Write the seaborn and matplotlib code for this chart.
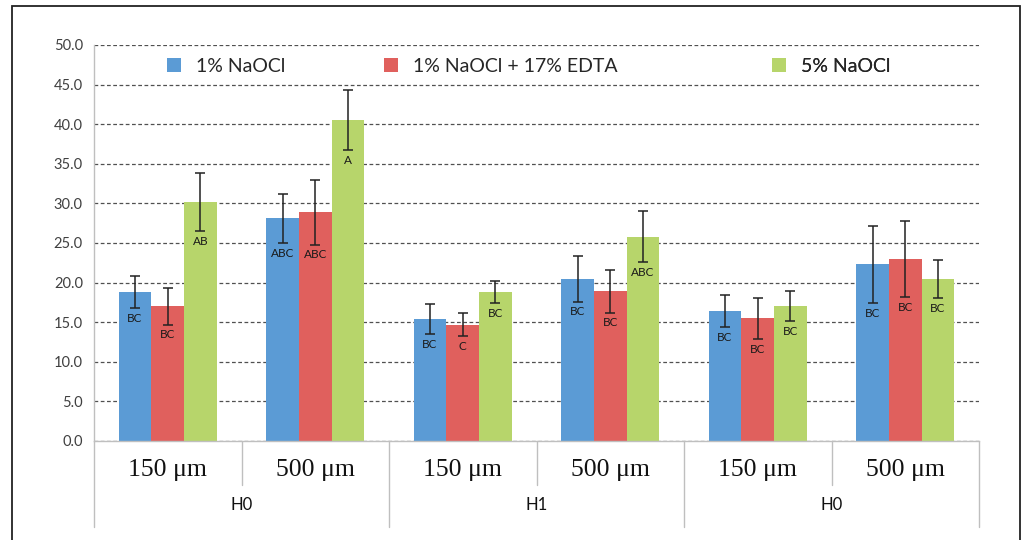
import numpy as np
import pandas as pd
import seaborn as sns
import matplotlib.pyplot as plt
from matplotlib.patches import Rectangle

# values: mean, sd and letter group per bar
groups = ['H0', 'H1', 'H0']
sizes = ['150 μm', '500 μm']
treatments = ['1% NaOCl', '1% NaOCl + 17% EDTA', '5% NaOCl']

naocl1 = [18.8, 28.1, 15.4, 20.5, 16.4, 22.3]
naocl1_sd = [2.0, 3.1, 1.9, 2.9, 2.0, 4.9]
naocl1_lbl = ['BC', 'ABC', 'BC', 'BC', 'BC', 'BC']

edta = [17.0, 28.9, 14.7, 18.9, 15.5, 23.0]
edta_sd = [2.3, 4.1, 1.5, 2.7, 2.6, 4.8]
edta_lbl = ['BC', 'ABC', 'C', 'BC', 'BC', 'BC']

naocl5 = [30.2, 40.5, 18.8, 25.8, 17.0, 20.4]
naocl5_sd = [3.7, 3.8, 1.4, 3.2, 1.9, 2.4]
naocl5_lbl = ['AB', 'A', 'BC', 'ABC', 'BC', 'BC']

colors = ['#5B9BD5', '#E0605D', '#B7D56B']

# long table for seaborn
slots = [f'{g}-{s}-{k}' for k, g in enumerate(groups) for s in sizes]
rows = []
for t, vals, sds, lbls in zip(treatments, [naocl1, edta, naocl5],
                              [naocl1_sd, edta_sd, naocl5_sd],
                              [naocl1_lbl, edta_lbl, naocl5_lbl]):
    for s, v, e, l in zip(slots, vals, sds, lbls):
        rows.append({'slot': s, 'treatment': t, 'value': v, 'sd': e, 'letter': l})
df = pd.DataFrame(rows)

sns.set_theme(style='white')
plt.rcParams['font.family'] = ['Lato', 'DejaVu Sans']

fig = plt.figure(figsize=(10.29, 5.4), dpi=100)
ax = fig.add_axes([94 / 1029, 1 - 441 / 540, (979 - 94) / 1029, 396 / 540])

sns.barplot(data=df, x='slot', y='value', hue='treatment', order=slots,
            hue_order=treatments, palette=colors, saturation=1, width=0.665,
            errorbar=None, linewidth=0, ax=ax)

# error bars + letters from the bar patches
for cont, t in zip(ax.containers, treatments):
    sub = df[df['treatment'] == t].set_index('slot').loc[slots]
    xs = [p.get_x() + p.get_width() / 2 for p in cont.patches]
    ax.errorbar(xs, sub['value'], yerr=sub['sd'], fmt='none', ecolor='#222222',
                elinewidth=1.1, capsize=3.5, capthick=1.1, zorder=3)
    for x, v, e, l in zip(xs, sub['value'], sub['sd'], sub['letter']):
        ax.text(x, v - e - 0.6, l, ha='center', va='top', fontsize=8.5,
                color='#1a1a1a', zorder=4)

ax.set_ylim(0, 50)
ax.set_xlim(-0.5, len(slots) - 0.5)
ax.set_yticks(np.arange(0, 51, 5))
ax.set_yticklabels([f'{v:.1f}' for v in np.arange(0, 51, 5)], fontsize=10.5,
                   color='#404040')
ax.tick_params(axis='y', length=0, pad=8)
ax.set_xticks([])
ax.set_xlabel('')
ax.set_ylabel('')
ax.set_axisbelow(True)
ax.yaxis.grid(True, linestyle=(0, (3, 2)), color='#505050', linewidth=0.9)
for sp in ['top', 'right']:
    ax.spines[sp].set_visible(False)
for sp in ['left', 'bottom']:
    ax.spines[sp].set_color('#BFBFBF')
    ax.spines[sp].set_linewidth(1.0)

# legend: one entry per slot, spaced like the original
h, l = ax.get_legend_handles_labels()
ax.get_legend().remove()
for hh, ll, xpx in zip(h, l, [167, 384, 772]):
    leg = ax.legend([hh], [ll], loc='center left',
                    bbox_to_anchor=((xpx - 94) / 885, 1 - 21 / 396),
                    frameon=False, fontsize=14, handlelength=0.7,
                    handleheight=0.7, handletextpad=0.8, borderaxespad=0,
                    borderpad=0)
    ax.add_artist(leg)

# category table under the axis
tr = ax.get_xaxis_transform()
for i, s in enumerate(slots):
    ax.text(i, -0.073, sizes[i % 2], transform=tr, ha='center', va='center',
            fontsize=18.5, family='Liberation Serif', color='#111111')
for k, g in enumerate(groups):
    ax.text(2 * k + 0.5, -0.162, g, transform=tr, ha='center', va='center',
            fontsize=12, color='#111111')
for k in range(len(groups)):
    ax.plot([2 * k + 0.5] * 2, [0, -0.111], transform=tr, color='#BFBFBF',
            lw=1.0, clip_on=False)
for k in range(len(groups) + 1):
    ax.plot([2 * k - 0.5] * 2, [0, -0.218], transform=tr, color='#BFBFBF',
            lw=1.0, clip_on=False)

# outer frame of the figure
fig.patches.append(Rectangle((12 / 1029, -0.1), (1020 - 12) / 1029, 1.1 - 6 / 540,
                             transform=fig.transFigure, fill=False,
                             edgecolor='#222222', linewidth=1.3))

fig.savefig('out.png', dpi=100)
